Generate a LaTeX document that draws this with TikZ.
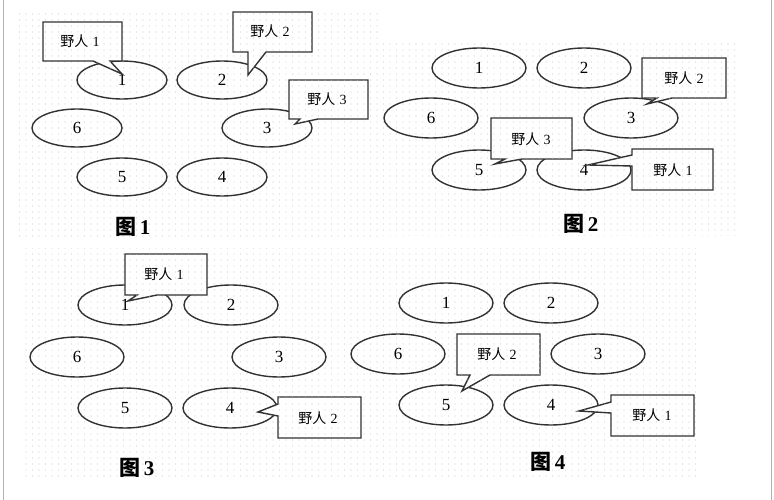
\documentclass[tikz,border=0pt]{standalone}
\usepackage{fontspec}
\setmainfont{Liberation Serif}
\newfontfamily\cjk{Noto Sans CJK SC}
\usetikzlibrary{shapes.geometric,patterns}
\pgfdeclarepatternformonly{bgdots}{\pgfqpoint{-1pt}{-1pt}}{\pgfqpoint{1pt}{1pt}}{\pgfqpoint{6.5pt}{6pt}}{%
  \pgfpathcircle{\pgfqpoint{0pt}{0pt}}{0.65pt}\pgfusepath{fill}}
\definecolor{ink}{RGB}{50,50,50}
\definecolor{dotc}{RGB}{205,205,205}
\tikzset{
  ell/.style={draw=ink, line width=1.4pt, ellipse, minimum width=94pt, minimum height=40pt, inner sep=0pt, font=\fontsize{17}{17}\selectfont},
  ellA/.style={ell, minimum width=90pt, minimum height=38pt},
  bubble/.style={draw=ink, line width=1.4pt, fill=white, postaction={pattern=bgdots, pattern color=dotc}, line join=miter},
  btext/.style={inner sep=0pt, font=\fontsize{14}{14}\selectfont},
  capt/.style={inner sep=0pt, font=\fontsize{21}{21}\selectfont\bfseries},
  dotbg/.style={pattern=bgdots, pattern color=dotc}
}
\newcommand{\yr}[1]{{\cjk 野人}\hspace{0.3em}#1}
\begin{document}
\begin{tikzpicture}[x=1pt,y=-1pt]
\useasboundingbox (0,0) rectangle (774,500);
% background dotted areas
\fill[dotbg] (17,13) rectangle (380,240);
\fill[dotbg] (380,42) rectangle (740,235);
\fill[dotbg] (25,248) rectangle (697,478);
\draw[gray!60, line width=0.8pt] (3,0) -- (3,500);
\draw[gray!60, line width=0.8pt] (771,0) -- (771,500);

% ---------- Figure 1 ----------
\node[ellA] (a1) at (122,80) {1};
\node[ellA] (a2) at (222,80) {2};
\node[ellA] (a6) at (77,128) {6};
\node[ellA] (a3) at (267,128) {3};
\node[ellA] (a5) at (122,177) {5};
\node[ellA] (a4) at (222,177) {4};
\draw[bubble] (43,22) -- (122,22) -- (122,61) -- (110,61) -- (122,74) -- (93,61) -- (43,61) -- cycle;
\node[btext] (ta1) at (80,41) {\yr{1}};
\draw[bubble] (233,12) -- (312,12) -- (312,52) -- (266,52) -- (248,75) -- (248,52) -- (233,52) -- cycle;
\node[btext] (ta2) at (270,31) {\yr{2}};
\draw[bubble] (289,80) -- (368,80) -- (368,119) -- (318,119) -- (295,124) -- (300,119) -- (289,119) -- cycle;
\node[btext] (ta3) at (327,99) {\yr{3}};
\node[capt] (capA) at (133,227) {{\cjk 图}\hspace{0.15em}1};

% ---------- Figure 2 ----------
\node[ell] (b1) at (479,68) {1};
\node[ell] (b2) at (584,68) {2};
\node[ell] (b6) at (431,118) {6};
\node[ell] (b3) at (631,118) {3};
\node[ell] (b5) at (479,170) {5};
\node[ell] (b4) at (584,170) {4};
\draw[bubble] (642,58) -- (726,58) -- (726,98) -- (672,98) -- (647,104) -- (657,98) -- (642,98) -- cycle;
\node[btext] (tb2) at (684,78) {\yr{2}};
\draw[bubble] (491,118) -- (572,118) -- (572,159) -- (522,159) -- (495,164) -- (505,159) -- (491,159) -- cycle;
\node[btext] (tb3) at (531,139) {\yr{3}};
\draw[bubble] (632,149) -- (713,149) -- (713,190) -- (632,190) -- (632,166) -- (588,165) -- (632,155) -- cycle;
\node[btext] (tb1) at (673,170) {\yr{1}};
\node[capt] (capB) at (581,224) {{\cjk 图}\hspace{0.15em}2};

% ---------- Figure 3 ----------
\node[ell] (c1) at (125,305) {1};
\node[ell] (c2) at (231,305) {2};
\node[ell] (c6) at (77,357) {6};
\node[ell] (c3) at (279,357) {3};
\node[ell] (c5) at (125,408) {5};
\node[ell] (c4) at (230,408) {4};
\draw[bubble] (125,254) -- (207,254) -- (207,295) -- (157,295) -- (128,301) -- (137,295) -- (125,295) -- cycle;
\node[btext] (tc1) at (164,274) {\yr{1}};
\draw[bubble] (278,397) -- (361,397) -- (361,438) -- (278,438) -- (278,416) -- (258,412) -- (278,404) -- cycle;
\node[btext] (tc2) at (318,418) {\yr{2}};
\node[capt] (capC) at (137,468) {{\cjk 图}\hspace{0.15em}3};

% ---------- Figure 4 ----------
\node[ell] (d1) at (446,303) {1};
\node[ell] (d2) at (551,303) {2};
\node[ell] (d6) at (398,354) {6};
\node[ell] (d3) at (598,354) {3};
\node[ell] (d5) at (446,405) {5};
\node[ell] (d4) at (551,405) {4};
\draw[bubble] (457,334) -- (540,334) -- (540,375) -- (490,375) -- (462,391) -- (470,375) -- (457,375) -- cycle;
\node[btext] (td2) at (497,354) {\yr{2}};
\draw[bubble] (611,395) -- (694,395) -- (694,436) -- (611,436) -- (611,413) -- (579,411) -- (611,402) -- cycle;
\node[btext] (td1) at (652,415) {\yr{1}};
\node[capt] (capD) at (548,462) {{\cjk 图}\hspace{0.15em}4};
\end{tikzpicture}
\end{document}
